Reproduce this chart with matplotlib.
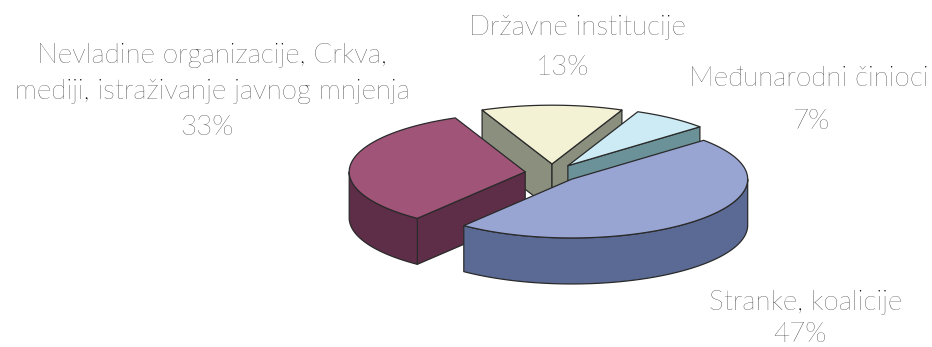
import numpy as np
import matplotlib
matplotlib.use('Agg')
import matplotlib.pyplot as plt
from matplotlib.patches import Polygon

plt.rcParams['font.family'] = ['Lato', 'DejaVu Sans']

# data, in drawing order (clockwise from the start angle)
labels = ['Državne institucije', 'Međunarodni činioci', 'Stranke, koalicije',
          'Nevladine organizacije, Crkva,\nmediji, istraživanje javnog mnjenja']
values = [13, 7, 47, 33]
top_colors = ['#F4F2D4', '#CCEBF5', '#98A4D2', '#A05478']
side_colors = ['#8A8F7E', '#6A9298', '#5A6A94', '#5E2E48']

# pie geometry (pixels)
cx, cy = 552, 173
R = 176
tilt = 0.334
depth = 46
explode = 27
start = 90 + values[0] / sum(values) * 360 / 2

fig = plt.figure(figsize=(9.32, 3.47), dpi=100)
ax = fig.add_axes([0, 0, 1, 1])
ax.set_xlim(0, 932)
ax.set_ylim(347, 0)
ax.axis('off')

edge = dict(edgecolor='#2a2a2a', linewidth=0.9, joinstyle='round')


def pt(ox, oy, t, dz=0):
    r = np.radians(t)
    return ox + R * np.cos(r), oy - R * tilt * np.sin(r) + dz


slices = []
a = start
for v in values:
    span = v / sum(values) * 360
    t1, t2 = a, a - span
    mid = np.radians((t1 + t2) / 2)
    ox = cx + explode * np.cos(mid)
    oy = cy - explode * tilt * np.sin(mid)
    slices.append((t1, t2, ox, oy))
    a = t2

# back slices first
order = [0, 1, 3, 2]
for i in order:
    t1, t2, ox, oy = slices[i]
    # radial faces
    for t, vis in ((t1, np.cos(np.radians(t1)) < 0), (t2, np.cos(np.radians(t2)) > 0)):
        if vis:
            ex, ey = pt(ox, oy, t)
            quad = [(ox, oy), (ex, ey), (ex, ey + depth), (ox, oy + depth)]
            ax.add_patch(Polygon(quad, closed=True, facecolor=side_colors[i], **edge))
    # outer wall, front half only
    lo, hi = t2, t1
    for base in (-360, 0, 360):
        f_lo, f_hi = max(lo, 180 + base), min(hi, 360 + base)
        if f_hi > f_lo:
            ts = np.linspace(f_lo, f_hi, 120)
            top = [pt(ox, oy, t) for t in ts]
            bot = [pt(ox, oy, t, depth) for t in ts[::-1]]
            ax.add_patch(Polygon(top + bot, closed=True, facecolor=side_colors[i], **edge))
    # top face
    ts = np.linspace(t1, t2, 200)
    face = [(ox, oy)] + [pt(ox, oy, t) for t in ts]
    ax.add_patch(Polygon(face, closed=True, facecolor=top_colors[i], **edge))

# labels: (x of name, x of percent, first baseline, line step)
txt = dict(ha='center', va='baseline', fontsize=20, color='#000000', fontweight='light')
pos = [(577, 562, 35, 40), (809, 811, 86, 43), (806, 800, 310, 32), (212, 207, 63, 36)]
for lab, v, (xn, xp, y0, step) in zip(labels, values, pos):
    lines = lab.split('\n')
    for j, line in enumerate(lines):
        ax.text(xn, y0 + j * step, line, **txt)
    ax.text(xp, y0 + len(lines) * step, f'{v}%', **txt)

fig.savefig('out.png', dpi=100)
